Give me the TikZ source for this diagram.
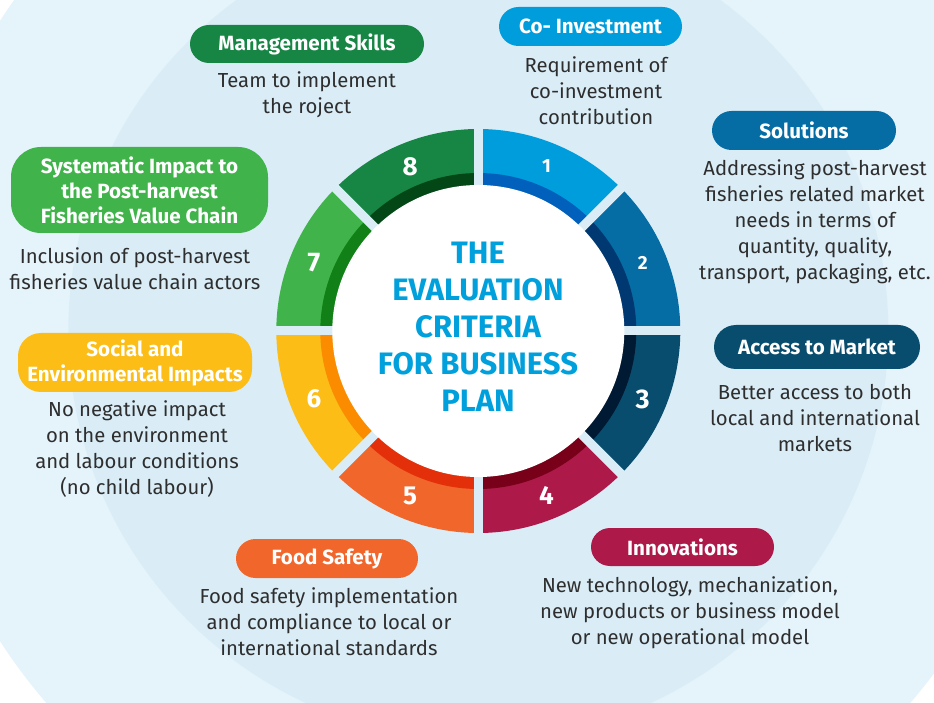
\documentclass[tikz,border=0pt]{standalone}
\usepackage{fontspec}
\setmainfont{Fira Sans}
\definecolor{bgout}{HTML}{E5F3FB}
\definecolor{bgin}{HTML}{DAEDF7}
\definecolor{txt}{HTML}{2E2E2E}
\definecolor{title}{HTML}{00A0DC}
\definecolor{cA}{HTML}{009DDC}\definecolor{dA}{HTML}{0060BB}
\definecolor{cB}{HTML}{066CA4}\definecolor{dB}{HTML}{003871}
\definecolor{cC}{HTML}{094D6E}\definecolor{dC}{HTML}{001A33}
\definecolor{cD}{HTML}{AD1A4A}\definecolor{dD}{HTML}{780018}
\definecolor{cE}{HTML}{F0662B}\definecolor{dE}{HTML}{E3300A}
\definecolor{cF}{HTML}{FBBD16}\definecolor{dF}{HTML}{FB8C00}
\definecolor{cG}{HTML}{40B44A}\definecolor{dG}{HTML}{118016}
\definecolor{cH}{HTML}{178645}\definecolor{dH}{HTML}{034717}
\tikzset{
  pill/.style={fill=#1, text=white, font=\bfseries\fontsize{20.6}{25}\selectfont, align=center, inner sep=0pt},
  desc/.style={text=txt, font=\fontsize{20.3}{26}\selectfont, align=center, inner sep=0pt},
  numlbl/.style={text=white, font=\bfseries\fontsize{#1}{#1}\selectfont, inner sep=0pt},
  titletext/.style={text=title, font=\bfseries\fontsize{31}{37}\selectfont, align=center, inner sep=0pt}
}
\begin{document}
\begin{tikzpicture}[x=1pt,y=1pt]
\useasboundingbox (0,0) rectangle (934,702);
\fill[white] (0,0) rectangle (934,702);
\coordinate (C) at (478.3,371);
\begin{scope}
\clip (0,0) rectangle (934,702);
\fill[bgout] (C) circle[radius=570];
\fill[bgin] (C) circle[radius=410];
\end{scope}
% ring segments
\foreach \k/\c/\d in {1/cA/dA,2/cB/dB,3/cC/dC,4/cD/dD,5/cE/dE,6/cF/dF,7/cG/dG,8/cH/dH}{
  \pgfmathsetmacro\a{90-45*\k}
  \pgfmathsetmacro\b{\a+45}
  \fill[\c] (C) -- ++(\a:202) arc[start angle=\a, end angle=\b, radius=202] -- cycle;
  \fill[\d] (C) -- ++(\a:158) arc[start angle=\a, end angle=\b, radius=158] -- cycle;
}
\foreach \t in {0,45,...,315}{
  \draw[bgin, line width=9pt] (C) -- ++(\t:214);
}
\fill[white] (C) circle[radius=146];
% numbers
\foreach \k/\s in {1/19,2/19,3/27,4/26,5/26,6/26,7/27,8/26}{
  \pgfmathsetmacro\m{112.5-45*\k}
  \node[numlbl=\s] (n\k) at ([shift={(\m:178)}]C) {\k};
}
\node[titletext] (title) at (478,375.5) {THE\\EVALUATION\\CRITERIA\\FOR BUSINESS\\PLAN};
% pills
\node[pill=cH, minimum width=234pt, minimum height=38pt, rounded corners=19pt] (p8) at (307,658) {Management Skills};
\node[pill=cA, minimum width=183pt, minimum height=39pt, rounded corners=19.5pt] (p1) at (590.5,675.5) {Co- Investment};
\node[pill=cB, minimum width=184pt, minimum height=39pt, rounded corners=19.5pt] (p2) at (804,571.5) {Solutions};
\node[pill=cC, minimum width=206pt, minimum height=44pt, rounded corners=22pt] (p3) at (817,355) {Access to Market};
\node[pill=cD, minimum width=183pt, minimum height=38pt, rounded corners=19pt] (p4) at (682.5,155) {Innovations};
\node[pill=cE, minimum width=182pt, minimum height=39pt, rounded corners=19.5pt] (p5) at (327,143.5) {Food Safety};
\node[pill=cF, minimum width=234pt, minimum height=59pt, rounded corners=23pt] (p6) at (135,339.5) {Social and\\Environmental Impacts};
\node[pill=cG, minimum width=257pt, minimum height=86pt, rounded corners=30pt] (p7) at (139.5,512) {Systematic Impact to\\the Post-harvest\\Fisheries Value Chain};
% descriptions
\node[desc] (t8) at (307,607) {Team to implement\\the roject};
\node[desc] (t1) at (596,611) {Requirement of\\co-investment\\contribution};
\node[desc] (t2) at (815,480) {Addressing post-harvest\\fisheries related market\\needs in terms of\\quantity, quality,\\transport, packaging, etc.};
\node[desc] (t3) at (815,284) {Better access to both\\local and international\\markets};
\node[desc] (t4) at (690,89) {New technology, mechanization,\\new products or business model\\or new operational model};
\node[desc] (t5) at (329,80) {Food safety implementation\\and compliance to local or\\international standards};
\node[desc] (t6) at (137,253) {No negative impact\\on the environment\\and labour conditions\\(no child labour)};
\node[desc] (t7) at (135,433.5) {Inclusion of post-harvest\\fisheries value chain actors};
\end{tikzpicture}
\end{document}
